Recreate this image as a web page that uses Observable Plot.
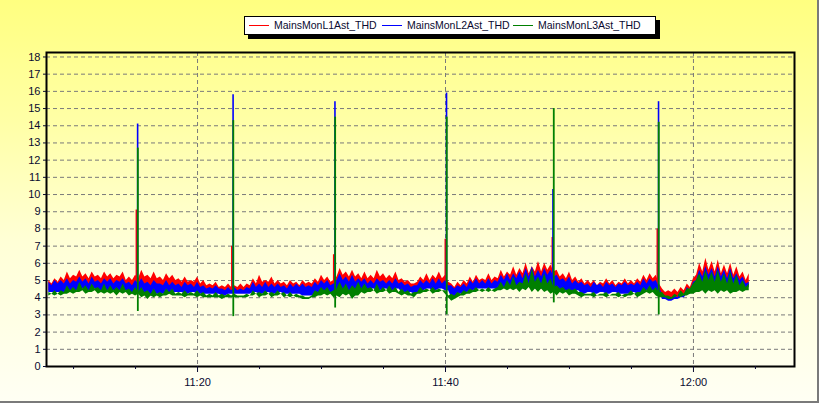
<!DOCTYPE html>
<html><head><meta charset="utf-8">
<script src="https://cdn.jsdelivr.net/npm/d3@7"></script>
<script src="https://cdn.jsdelivr.net/npm/@observablehq/plot@0.6"></script>
<style>
html,body{margin:0;padding:0;background:#fff;}
#wrap{position:relative;width:819px;height:403px;overflow:hidden;
  background:linear-gradient(180deg,#ffff80 0%,#ffffa6 30%,#ffffd6 60%,#fffff4 100%);
  font-family:"Liberation Sans",Arial,sans-serif;}
#edge{position:absolute;left:0;top:0;width:819px;height:403px;box-sizing:border-box;
  border-right:2px solid #7a7a7a;border-bottom:2px solid #7a7a7a;pointer-events:none;}
#legend{position:absolute;left:244px;top:16px;width:410px;height:17px;border:1px solid #000;
  background:#fff;box-shadow:4px 4px 0 #000;}
#legend .sw{position:absolute;top:8px;width:20px;height:1px;}
#legend .tx{position:absolute;top:0;line-height:17px;font-size:10.5px;color:#0a0a30;white-space:nowrap;}
svg{position:absolute;left:0;top:0;}
</style>
</head><body>
<div id="wrap"><div id="legend"></div><div id="edge"></div></div>
<script>
// ---- series names & colours
const seriesNames = ["MainsMonL1Ast_THD","MainsMonL2Ast_THD","MainsMonL3Ast_THD"];
const seriesColors = ["#ff0000","#0000ff","#008000"];

// ---- band samples: every 15 s from 11:08:00 (upper / lower envelope of the noisy trace)
const bandStart = "11:08:00";
const bandStepSec = 15;
const redHi = [
5.0,4.8, 5.1,4.9, 5.2,5.0, 5.5,5.1, 5.3,5.2, 5.6,5.2, 5.4,5.1, 5.5,5.2, 5.3,5.1, 5.5,5.2,
5.4,5.1, 5.3,5.2, 5.5,5.0, 5.2,5.0, 5.3,5.1, 5.6,5.2, 5.3,5.1, 5.5,5.1, 5.2,5.0, 5.4,5.1,
5.3,5.0, 5.1,4.9, 5.2,4.9, 5.0,4.9, 5.2,4.8, 5.0,4.7, 4.8,4.7, 4.9,4.6, 4.7,4.6, 4.8,4.6,
4.7,4.6, 4.8,4.6, 4.8,4.7, 5.1,4.8, 5.3,4.9, 5.0,4.9, 5.2,4.8, 5.0,4.8, 4.9,4.7, 5.0,4.8,
4.9,4.7, 5.0,4.8, 4.9,4.8, 5.1,4.9, 5.3,5.0, 5.2,4.9, 5.0,5.2, 5.7,5.3, 5.5,5.2, 5.6,5.2,
5.4,5.1, 5.5,5.1, 5.3,5.1, 5.6,5.2, 5.4,5.1, 5.3,5.1, 5.5,5.0, 5.1,4.9, 5.0,4.8, 4.8,4.9,
5.2,5.0, 5.4,5.0, 5.3,5.1, 5.5,5.1, 5.3,4.9, 4.8,4.6, 4.9,4.7, 5.0,4.8, 5.2,4.9, 5.3,5.0,
5.1,5.0, 5.4,5.0, 5.2,5.1, 5.6,5.2, 5.5,5.3, 5.8,5.3, 5.7,5.4, 6.0,5.4, 5.8,5.5, 6.1,5.5,
6.0,5.6, 5.9,5.5, 5.6,5.2, 5.4,5.1, 5.5,5.0, 5.2,4.9, 5.1,4.8, 5.0,4.8, 5.0,4.7, 4.9,4.8,
5.1,4.8, 5.0,4.7, 4.9,4.8, 5.1,4.8, 5.0,4.8, 5.1,4.9, 5.3,5.0, 5.4,5.1, 5.3,4.8, 4.5,4.3,
4.4,4.3, 4.5,4.3, 4.6,4.4, 4.8,4.6, 5.1,5.3, 6.0,5.5, 6.3,5.6, 6.1,5.5, 6.2,5.4, 5.9,5.4,
6.0,5.3, 5.8,5.2, 5.5,5.0, 5.4];
const redLo = [
4.4,4.4, 4.4,4.4, 4.4,4.4, 4.5,4.5, 4.5,4.5, 4.6,4.6, 4.5,4.5, 4.6,4.6, 4.5,4.5, 4.5,4.5,
4.5,4.5, 4.4,4.4, 4.5,4.5, 4.4,4.4, 4.4,4.4, 4.3,4.3, 4.2,4.2, 4.3,4.3, 4.3,4.3, 4.4,4.4,
4.4,4.4, 4.4,4.4, 4.3,4.3, 4.4,4.4, 4.3,4.3, 4.3,4.3, 4.3,4.3, 4.3,4.3, 4.2,4.2, 4.3,4.3,
4.3,4.3, 4.3,4.3, 4.3,4.3, 4.4,4.4, 4.3,4.3, 4.4,4.4, 4.3,4.3, 4.4,4.4, 4.3,4.3, 4.3,4.3,
4.3,4.3, 4.2,4.2, 4.2,4.2, 4.3,4.3, 4.4,4.4, 4.4,4.4, 4.3,4.3, 4.3,4.3, 4.4,4.4, 4.2,4.2,
4.4,4.4, 4.5,4.5, 4.6,4.6, 4.5,4.5, 4.6,4.6, 4.5,4.5, 4.6,4.6, 4.4,4.4, 4.4,4.4, 4.3,4.3,
4.5,4.5, 4.6,4.6, 4.5,4.5, 4.6,4.6, 4.5,4.5, 4.1,4.1, 4.3,4.3, 4.4,4.4, 4.5,4.5, 4.6,4.6,
4.6,4.6, 4.6,4.6, 4.6,4.6, 4.7,4.7, 4.7,4.7, 4.7,4.7, 4.6,4.6, 4.7,4.7, 4.6,4.6, 4.6,4.6,
4.6,4.6, 4.5,4.5, 4.4,4.4, 4.5,4.5, 4.4,4.4, 4.5,4.5, 4.3,4.3, 4.4,4.4, 4.3,4.3, 4.4,4.4,
4.3,4.3, 4.4,4.4, 4.3,4.3, 4.3,4.3, 4.4,4.4, 4.3,4.3, 4.5,4.5, 4.5,4.5, 4.4,4.4, 4.0,4.0,
3.9,3.9, 4.0,4.0, 4.1,4.1, 4.3,4.3, 4.5,4.5, 4.6,4.6, 4.5,4.5, 4.6,4.6, 4.5,4.5, 4.6,4.6,
4.5,4.5, 4.6,4.6, 4.6,4.6, 4.7];
const blueHi = [
4.9,4.7, 5.0,4.8, 5.0,4.8, 5.1,4.8, 5.0,4.9, 5.2,4.9, 5.1,4.8, 5.2,4.9, 5.0,4.8, 5.1,4.9,
5.1,4.8, 5.0,4.9, 5.1,4.8, 4.9,4.7, 5.0,4.8, 5.1,4.8, 4.9,4.7, 5.0,4.8, 4.8,4.7, 5.0,4.7,
4.9,4.7, 4.8,4.6, 4.9,4.7, 4.8,4.6, 4.9,4.6, 4.7,4.5, 4.6,4.5, 4.7,4.5, 4.5,4.4, 4.6,4.4,
4.6,4.4, 4.5,4.4, 4.6,4.5, 4.9,4.6, 4.8,4.6, 4.9,4.6, 4.8,4.6, 4.8,4.6, 4.7,4.5, 4.8,4.6,
4.8,4.6, 4.8,4.6, 4.7,4.6, 4.9,4.7, 5.0,4.8, 5.0,4.7, 4.8,5.0, 5.4,5.0, 5.2,4.9, 5.3,4.9,
5.1,4.9, 5.1,4.8, 5.0,4.8, 5.1,4.9, 5.0,4.8, 5.0,4.8, 5.1,4.8, 4.9,4.7, 4.8,4.6, 4.7,4.7,
5.0,4.8, 5.0,4.8, 5.1,4.8, 5.1,4.8, 5.0,4.7, 4.7,4.5, 4.7,4.6, 4.8,4.6, 5.0,4.8, 5.1,4.8,
5.0,4.8, 5.1,4.8, 5.0,4.9, 5.3,5.0, 5.4,5.0, 5.4,5.1, 5.5,5.1, 5.7,5.2, 5.8,5.2, 5.6,5.2,
5.7,5.3, 5.6,5.2, 5.3,5.0, 5.1,4.9, 5.2,4.8, 5.0,4.8, 4.9,4.7, 4.8,4.6, 4.9,4.7, 4.8,4.6,
4.9,4.7, 4.8,4.6, 4.8,4.7, 4.9,4.7, 4.8,4.7, 4.9,4.7, 5.1,4.8, 5.1,4.9, 5.0,4.6, 4.2,4.0,
4.0,3.9, 4.1,4.0, 4.3,4.1, 4.6,4.4, 4.9,5.0, 5.6,5.2, 5.8,5.3, 5.7,5.2, 5.8,5.2, 5.6,5.1,
5.7,5.1, 5.4,5.0, 5.2,4.8, 4.9];
const blueLo = [
4.3,4.3, 4.3,4.3, 4.3,4.3, 4.4,4.4, 4.4,4.4, 4.5,4.5, 4.4,4.4, 4.5,4.5, 4.4,4.4, 4.4,4.4,
4.4,4.4, 4.3,4.3, 4.4,4.4, 4.3,4.3, 4.3,4.3, 4.2,4.2, 4.1,4.1, 4.2,4.2, 4.2,4.2, 4.3,4.3,
4.3,4.3, 4.3,4.3, 4.2,4.2, 4.3,4.3, 4.2,4.2, 4.2,4.2, 4.2,4.2, 4.2,4.2, 4.1,4.1, 4.2,4.2,
4.2,4.2, 4.2,4.2, 4.2,4.2, 4.3,4.3, 4.2,4.2, 4.3,4.3, 4.2,4.2, 4.3,4.3, 4.2,4.2, 4.2,4.2,
4.2,4.2, 4.1,4.1, 4.1,4.1, 4.2,4.2, 4.3,4.3, 4.3,4.3, 4.2,4.2, 4.2,4.2, 4.3,4.3, 4.1,4.1,
4.3,4.3, 4.4,4.4, 4.5,4.5, 4.4,4.4, 4.5,4.5, 4.4,4.4, 4.5,4.5, 4.3,4.3, 4.3,4.3, 4.2,4.2,
4.4,4.4, 4.5,4.5, 4.4,4.4, 4.5,4.5, 4.4,4.4, 4.0,4.0, 4.2,4.2, 4.3,4.3, 4.4,4.4, 4.5,4.5,
4.5,4.5, 4.5,4.5, 4.5,4.5, 4.6,4.6, 4.6,4.6, 4.6,4.6, 4.5,4.5, 4.6,4.6, 4.5,4.5, 4.5,4.5,
4.5,4.5, 4.4,4.4, 4.3,4.3, 4.4,4.4, 4.3,4.3, 4.4,4.4, 4.2,4.2, 4.3,4.3, 4.2,4.2, 4.3,4.3,
4.2,4.2, 4.3,4.3, 4.2,4.2, 4.2,4.2, 4.3,4.3, 4.2,4.2, 4.4,4.4, 4.4,4.4, 4.3,4.3, 3.9,3.9,
3.8,3.8, 3.9,3.9, 4.0,4.0, 4.2,4.2, 4.4,4.4, 4.5,4.5, 4.4,4.4, 4.5,4.5, 4.4,4.4, 4.5,4.5,
4.4,4.4, 4.5,4.5, 4.5,4.5, 4.6];
const greenHi = [
4.3,4.2, 4.4,4.2, 4.4,4.3, 4.7,4.4, 4.6,4.4, 4.9,4.5, 4.7,4.4, 4.8,4.5, 4.6,4.4, 4.8,4.4,
4.7,4.4, 4.6,4.4, 4.8,4.4, 4.5,4.3, 4.6,4.3, 4.6,4.3, 4.4,4.2, 4.5,4.2, 4.3,4.2, 4.5,4.3,
4.5,4.2, 4.3,4.2, 4.4,4.2, 4.3,4.2, 4.4,4.2, 4.3,4.1, 4.2,4.1, 4.3,4.1, 4.2,4.1, 4.2,4.1,
4.2,4.1, 4.1,4.1, 4.2,4.1, 4.4,4.2, 4.3,4.2, 4.4,4.2, 4.3,4.2, 4.4,4.2, 4.3,4.1, 4.3,4.1,
4.2,4.1, 4.1,4.0, 4.0,4.1, 4.4,4.3, 4.6,4.4, 4.6,4.3, 4.4,4.5, 4.9,4.5, 4.8,4.4, 4.7,4.5,
4.9,4.5, 4.8,4.5, 4.6,4.4, 4.8,4.4, 4.6,4.4, 4.7,4.4, 4.6,4.3, 4.5,4.3, 4.4,4.2, 4.3,4.3,
4.6,4.4, 4.5,4.4, 4.6,4.4, 4.5,4.4, 4.4,4.1, 4.2,4.1, 4.3,4.2, 4.4,4.3, 4.5,4.4, 4.6,4.4,
4.5,4.4, 4.6,4.4, 4.5,4.6, 4.9,4.6, 5.0,4.7, 5.2,4.7, 4.9,4.8, 5.4,4.8, 5.7,4.9, 5.2,4.8,
5.4,4.8, 5.1,4.6, 4.7,4.5, 4.6,4.4, 4.5,4.4, 4.5,4.3, 4.3,4.2, 4.2,4.2, 4.3,4.1, 4.2,4.2,
4.3,4.1, 4.2,4.2, 4.3,4.1, 4.2,4.2, 4.4,4.2, 4.3,4.3, 4.6,4.4, 4.7,4.4, 4.6,4.3, 4.3,4.1,
4.1,4.0, 4.2,4.1, 4.4,4.2, 4.5,4.5, 4.8,5.0, 5.4,4.9, 5.6,5.0, 5.5,4.9, 5.6,4.9, 5.4,4.8,
5.5,4.8, 5.3,4.7, 5.0,4.6, 4.8];
const greenLo = [
4.1,4.2, 4.1,4.2, 4.1,4.2, 4.2,4.3, 4.2,4.3, 4.3,4.4, 4.2,4.3, 4.3,4.4, 4.2,4.3, 4.2,4.3,
4.2,4.3, 4.1,4.3, 4.2,4.3, 4.1,4.2, 4.1,4.2, 4.0,4.1, 3.9,4.1, 4.0,4.1, 4.0,4.1, 4.1,4.2,
4.1,4.1, 4.1,4.1, 4.0,4.1, 4.1,4.1, 4.0,4.1, 4.0,4.0, 4.0,4.0, 4.0,4.0, 3.9,4.0, 4.0,4.0,
4.0,4.0, 4.0,4.0, 4.0,4.1, 4.1,4.2, 4.0,4.1, 4.1,4.2, 4.0,4.1, 4.1,4.2, 4.0,4.1, 4.0,4.1,
4.0,4.0, 3.9,3.9, 3.9,4.0, 4.0,4.1, 4.1,4.2, 4.1,4.2, 4.0,4.1, 4.0,4.2, 4.1,4.2, 3.9,4.1,
4.1,4.3, 4.2,4.3, 4.3,4.4, 4.2,4.3, 4.3,4.4, 4.2,4.3, 4.3,4.2, 4.1,4.2, 4.1,4.1, 4.0,4.2,
4.2,4.3, 4.3,4.4, 4.2,4.3, 4.3,4.4, 4.2,4.0, 3.8,3.9, 4.0,4.1, 4.1,4.2, 4.2,4.3, 4.3,4.4,
4.3,4.4, 4.3,4.4, 4.3,4.4, 4.4,4.5, 4.4,4.5, 4.4,4.5, 4.3,4.5, 4.4,4.6, 4.3,4.5, 4.3,4.5,
4.3,4.4, 4.2,4.3, 4.1,4.3, 4.2,4.3, 4.1,4.2, 4.2,4.1, 4.0,4.1, 4.1,4.1, 4.0,4.1, 4.1,4.1,
4.0,4.1, 4.1,4.1, 4.0,4.1, 4.0,4.1, 4.1,4.2, 4.0,4.1, 4.2,4.3, 4.2,4.3, 4.1,4.0, 4.0,4.0,
3.9,3.9, 4.0,4.1, 4.0,4.1, 4.1,4.2, 4.2,4.3, 4.3,4.4, 4.2,4.4, 4.3,4.4, 4.2,4.4, 4.3,4.4,
4.2,4.3, 4.3,4.4, 4.3,4.4, 4.4];

// ---- transient spikes
const redSpikeTimes   = ["11:15:04","11:22:46","11:30:59","11:39:59","11:48:37","11:57:05"];
const redSpikeHi      = [9.1, 7.0, 6.5, 7.4, 7.5, 8.0];
const redSpikeLo      = [4.6, 4.6, 4.7, 4.7, 5.0, 4.6];
const blueSpikeTimes  = ["11:15:10","11:22:52","11:31:05","11:40:05","11:48:40","11:57:11"];
const blueSpikeHi     = [14.1, 15.8, 15.4, 15.9, 10.3, 15.4];
const blueSpikeLo     = [4.5, 4.5, 4.6, 4.6, 4.9, 4.5];
const greenSpikeTimes = ["11:15:11","11:22:53","11:31:06","11:40:06","11:48:44","11:57:12"];
const greenSpikeHi    = [12.7, 14.3, 14.5, 14.5, 15.0, 14.2];
const greenSpikeLo    = [3.2, 2.9, 3.4, 3.0, 3.7, 3.0];

// ---- axes
const yTickValues = [0,1,2,3,4,5,6,7,8,9,10,11,12,13,14,15,16,17,18];
const xTickLabels = ["11:20","11:40","12:00"];
const xMinorTicks = ["11:10","11:15","11:25","11:30","11:35","11:45","11:50","11:55","12:05"];
const xDomain = ["11:07:49","12:08:09"];

const T = s => { const [h,m,sec] = s.split(":").map(Number); return new Date(Date.UTC(2024,0,1,h,m,sec||0)); };
const t0 = T(bandStart).getTime();
const band = redHi.map((v,i) => ({
  t: new Date(t0 + i*bandStepSec*1000),
  rh: v, rl: redLo[i], bh: blueHi[i], bl: blueLo[i], gh: greenHi[i], gl: greenLo[i]
}));
const spikes = (times, hi, lo) => times.map((s,i) => ({t: T(s), hi: hi[i], lo: lo[i]}));
const redS = spikes(redSpikeTimes, redSpikeHi, redSpikeLo);
const blueS = spikes(blueSpikeTimes, blueSpikeHi, blueSpikeLo);
const greenS = spikes(greenSpikeTimes, greenSpikeHi, greenSpikeLo);
const xTicks = xTickLabels.map(T);
const xMinor = xMinorTicks.map(T);
const grid = {stroke:"#7a7a7a", strokeDasharray:"4,3", strokeWidth:1};

const chart = Plot.plot({
  width: 819, height: 403,
  marginLeft: 46, marginRight: 25, marginTop: 52, marginBottom: 37,
  style: {background:"transparent", fontFamily:"'Liberation Sans', Arial, sans-serif", fontSize:"11px", color:"#0a0a30"},
  x: {type:"utc", domain: xDomain.map(T)},
  y: {domain:[0, 18.26]},
  marks: [
    Plot.ruleY(yTickValues.filter(v => v > 0), {y: d => d, ...grid}),
    Plot.ruleX(xTicks, {x: d => d, ...grid}),
    Plot.areaY(band, {x:"t", y1:"rl", y2:"rh", fill: seriesColors[0], curve:"linear"}),
    Plot.ruleX(redS, {x:"t", y1:"lo", y2:"hi", stroke: seriesColors[0], strokeWidth:1.6}),
    Plot.areaY(band, {x:"t", y1:"bl", y2:"bh", fill: seriesColors[1], curve:"linear"}),
    Plot.ruleX(blueS, {x:"t", y1:"lo", y2:"hi", stroke: seriesColors[1], strokeWidth:1.6}),
    Plot.areaY(band, {x:"t", y1:"gl", y2:"gh", fill: seriesColors[2], curve:"linear"}),
    Plot.ruleX(greenS, {x:"t", y1:"lo", y2:"hi", stroke: seriesColors[2], strokeWidth:1.8}),
    Plot.frame({stroke:"#000", strokeWidth:2}),
    Plot.axisY(yTickValues, {tickSize:3, tickPadding:3, fontSize:11, label:null}),
    Plot.axisX(xTicks, {tickSize:6, tickPadding:6, fontSize:11, label:null, tickFormat: d3.utcFormat("%H:%M")}),
    Plot.axisX(xMinor, {tickSize:3, text:null, label:null})
  ]
});
document.getElementById("wrap").insertBefore(chart, document.getElementById("legend"));

// ---- legend
const legend = document.getElementById("legend");
const swLeft = [4, 137, 268], txLeft = [29, 162, 293];
seriesNames.forEach((name,i) => {
  const sw = document.createElement("div");
  sw.className = "sw"; sw.style.left = swLeft[i] + "px"; sw.style.background = seriesColors[i];
  const tx = document.createElement("div");
  tx.className = "tx"; tx.style.left = txLeft[i] + "px"; tx.textContent = name;
  legend.appendChild(sw); legend.appendChild(tx);
});
</script>
</body></html>
